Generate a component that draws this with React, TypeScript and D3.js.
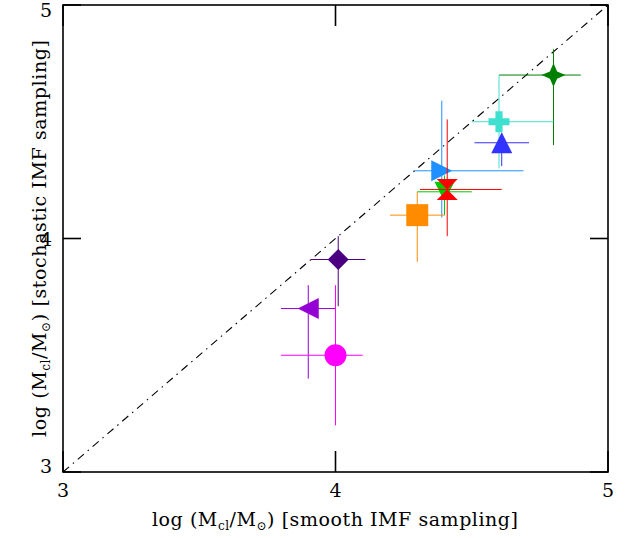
import React from "react";
import * as d3 from "d3";

const names = ["star", "plus", "triUp", "triRight", "triDown", "hourglass", "square", "diamond", "triLeft", "circle"];
const xVals = [4.80, 4.60, 4.61, 4.39, 4.40, 4.41, 4.30, 4.01, 3.90, 4.00];
const yVals = [4.70, 4.50, 4.41, 4.29, 4.20, 4.21, 4.10, 3.91, 3.70, 3.50];
const xLo = [4.60, 4.50, 4.51, 4.29, 4.30, 4.31, 4.20, 3.91, 3.80, 3.80];
const xHi = [4.90, 4.80, 4.71, 4.69, 4.50, 4.61, 4.40, 4.11, 4.00, 4.10];
const yLo = [4.40, 4.30, 4.31, 4.09, 4.10, 4.01, 3.90, 3.71, 3.40, 3.20];
const yHi = [4.81, 4.70, 4.45, 4.59, 4.27, 4.51, 4.20, 4.01, 3.80, 3.80];
const colors = ["#008000", "#40e0d0", "#3333ff", "#1e90ff", "#00c800", "#ff0000", "#ff8c00", "#4b0082", "#9400d3", "#ff00ff"];
const ticks = [3, 4, 5];

const W = 626, H = 538;
const L = 63, R = 608, T = 5, B = 472;

function markerPath(kind: string, r: number): string {
  const p = d3.path();
  const poly = (pts: [number, number][]) => {
    p.moveTo(pts[0][0], pts[0][1]);
    for (let i = 1; i < pts.length; i++) p.lineTo(pts[i][0], pts[i][1]);
    p.closePath();
  };
  const k = r * 0.3;
  const t = r * 0.34;
  switch (kind) {
    case "star":
      poly([[0, -r], [k, -k], [r, 0], [k, k], [0, r], [-k, k], [-r, 0], [-k, -k]]);
      break;
    case "plus":
      poly([[-t, -r], [t, -r], [t, -t], [r, -t], [r, t], [t, t], [t, r], [-t, r], [-t, t], [-r, t], [-r, -t], [-t, -t]]);
      break;
    case "triUp":
      poly([[0, -r], [r, r], [-r, r]]);
      break;
    case "triDown":
      poly([[-r, -r], [r, -r], [0, r]]);
      break;
    case "triRight":
      poly([[-r, -r], [r, 0], [-r, r]]);
      break;
    case "triLeft":
      poly([[r, -r], [r, r], [-r, 0]]);
      break;
    case "hourglass":
      poly([[-r, -r], [r, -r], [0, 0]]);
      poly([[0, 0], [r, r], [-r, r]]);
      break;
    case "square":
      poly([[-r, -r], [r, -r], [r, r], [-r, r]]);
      break;
    case "diamond":
      poly([[0, -r], [r, 0], [0, r], [-r, 0]]);
      break;
    case "circle":
      p.arc(0, 0, r, 0, Math.PI * 2);
      break;
  }
  return p.toString();
}

const sizes: Record<string, number> = {
  star: 12, plus: 10.5, triUp: 10.5, triDown: 10, triRight: 10.5, triLeft: 10.5,
  hourglass: 10.5, square: 11, diamond: 10.5, circle: 11,
};

const yLabelBase: Record<number, number> = { 3: 473, 4: 246, 5: 17 };

export default function App() {
  const x = d3.scaleLinear().domain([3, 5]).range([L, R]);
  const y = d3.scaleLinear().domain([3, 5]).range([B, T]);
  const font = "'DejaVu Serif', serif";

  return (
    <svg width={W} height={H} style={{ position: "absolute", left: 0, top: 0, background: "#fff" }}>
      <rect x={0} y={0} width={W} height={H} fill="#fff" />
      <line x1={x(3)} y1={y(3)} x2={x(5)} y2={y(5)} stroke="#000" strokeWidth={1.1} strokeDasharray="8,5,1.5,5" />
      {names.map((n, i) => (
        <g key={n}>
          <line x1={x(xLo[i])} x2={x(xHi[i])} y1={y(yVals[i])} y2={y(yVals[i])} stroke={colors[i]} strokeWidth={1} />
          <line x1={x(xVals[i])} x2={x(xVals[i])} y1={y(yLo[i])} y2={y(yHi[i])} stroke={colors[i]} strokeWidth={1} />
          <path d={markerPath(n, sizes[n])} transform={`translate(${x(xVals[i])},${y(yVals[i])})`} fill={colors[i]} />
        </g>
      ))}
      <rect x={L} y={T} width={R - L} height={B - T} fill="none" stroke="#000" strokeWidth={1.6} />
      {ticks.map((t) => (
        <g key={"t" + t}>
          <line x1={x(t)} x2={x(t)} y1={B} y2={B - 21} stroke="#000" strokeWidth={1.6} />
          <line x1={x(t)} x2={x(t)} y1={T} y2={T + 21} stroke="#000" strokeWidth={1.6} />
          <line x1={L} x2={L + 18} y1={y(t)} y2={y(t)} stroke="#000" strokeWidth={1.6} />
          <line x1={R} x2={R - 18} y1={y(t)} y2={y(t)} stroke="#000" strokeWidth={1.6} />
          <text x={x(t)} y={497} textAnchor="middle" fontFamily={font} fontSize={19} fill="#000">{t}</text>
          <text x={52} y={yLabelBase[t]} textAnchor="end" fontFamily={font} fontSize={19} fill="#000">{t}</text>
        </g>
      ))}
      <text x={152} y={526} textLength={366} lengthAdjust="spacing" fontFamily={font} fontSize={19} fill="#000">
        log (M<tspan fontSize={12} dy={4}>cl</tspan><tspan dy={-4}>/M</tspan><tspan fontSize={12} dy={4}>⊙</tspan><tspan dy={-4}>) [smooth IMF sampling]</tspan>
      </text>
      <text transform={`translate(46,437) rotate(-90)`} x={0} y={0} textLength={397} lengthAdjust="spacing" fontFamily={font} fontSize={19} fill="#000">
        log (M<tspan fontSize={12} dy={4}>cl</tspan><tspan dy={-4}>/M</tspan><tspan fontSize={12} dy={4}>⊙</tspan><tspan dy={-4}>) [stochastic IMF sampling]</tspan>
      </text>
    </svg>
  );
}
